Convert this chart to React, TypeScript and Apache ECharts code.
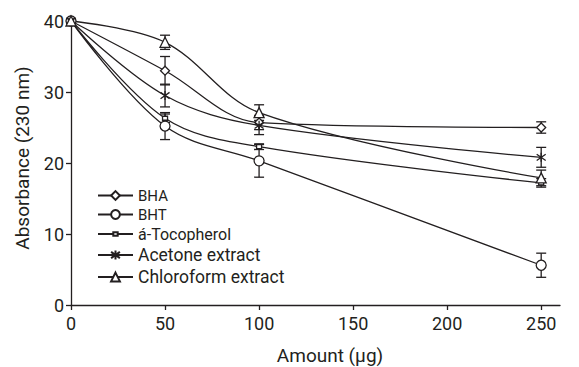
import React, { useEffect, useRef } from "react";
import * as echarts from "echarts";

const amounts = [0, 50, 100, 250];
const xTicks = [0, 50, 100, 150, 200, 250];
const yTicks = [0, 10, 20, 30, 40];

const seriesNames = ["BHA", "BHT", "á-Tocopherol", "Acetone extract", "Chloroform extract"];
const bha = [40, 33.0, 25.7, 25.0];
const bht = [40, 25.2, 20.3, 5.6];
const toco = [40, 26.3, 22.3, 17.2];
const acetone = [40, 29.5, 25.3, 20.8];
const chloro = [40, 37.0, 27.1, 17.9];

const bhaErr = [0, 2.0, 1.0, 0.8];
const bhtErr = [0, 1.9, 2.3, 1.7];
const tocoErr = [0, 0.6, 0.4, 0.6];
const acetoneErr = [0, 1.6, 1.3, 1.4];
const chloroErr = [0, 1.0, 1.1, 1.1];

const INK = "#231f20";
const FONT = "Roboto";

const asteriskPath = "path://M5,0 L5,10 M1.5,1.5 L8.5,8.5 M1.5,8.5 L8.5,1.5";
const smallRectPath = "path://M0,0 M10,10 M2.5,3 L7.5,3 L7.5,7 L2.5,7 Z";

export default function App() {
  const ref = useRef<HTMLDivElement>(null);
  useEffect(() => {
    if (!ref.current) return;
    const chart = echarts.init(ref.current, undefined, { renderer: "svg" });
    const values = [bha, bht, toco, acetone, chloro];
    const errs = [bhaErr, bhtErr, tocoErr, acetoneErr, chloroErr];
    const symbols = ["diamond", "circle", smallRectPath, asteriskPath, "triangle"];
    const sizes = [9, 10, 10, 9, 10];
    const fontSizes = [15, 15, 16, 17.5, 17.5];

    const lineSeries = values.map((v, i) => ({
      name: seriesNames[i],
      type: "line",
      data: amounts.map((a, j) => [a, v[j]]),
      smooth: 0.35,
      symbol: symbols[i],
      symbolSize: sizes[i],
      showAllSymbol: true,
      lineStyle: { color: INK, width: 1.3 },
      itemStyle: { color: "#ffffff", borderColor: INK, borderWidth: 1.3 },
      z: 3,
    }));

    const errSeries = values.map((v, i) => ({
      name: seriesNames[i] + " err",
      type: "custom",
      data: amounts.map((a, j) => [a, v[j], errs[i][j]]).filter((d) => d[2] > 0),
      z: 2,
      renderItem: (params: any, api: any) => {
        const x = api.value(0);
        const y = api.value(1);
        const e = api.value(2);
        const top = api.coord([x, y + e]);
        const bot = api.coord([x, y - e]);
        const w = 5;
        const st = { stroke: INK, lineWidth: 1.3 };
        return {
          type: "group",
          children: [
            { type: "line", shape: { x1: top[0], y1: top[1], x2: bot[0], y2: bot[1] }, style: st },
            { type: "line", shape: { x1: top[0] - w, y1: top[1], x2: top[0] + w, y2: top[1] }, style: st },
            { type: "line", shape: { x1: bot[0] - w, y1: bot[1], x2: bot[0] + w, y2: bot[1] }, style: st },
          ],
        };
      },
    }));

    chart.setOption({
      animation: false,
      backgroundColor: "#ffffff",
      textStyle: { fontFamily: FONT, color: INK },
      grid: { left: 71, right: 19, top: 21, bottom: 62, containLabel: false },
      legend: {
        orient: "vertical",
        left: 97,
        top: 188,
        padding: 0,
        itemWidth: 35,
        itemHeight: 11,
        itemGap: 4,
        selectedMode: false,
        data: seriesNames.map((n, i) => ({
          name: n,
          textStyle: { fontSize: fontSizes[i], lineHeight: 15, color: INK, fontFamily: FONT },
        })),
      },
      xAxis: {
        type: "value",
        min: 0,
        max: 260,
        interval: 50,
        axisLine: { lineStyle: { color: INK, width: 1.3 } },
        axisTick: { show: true, length: 5, lineStyle: { color: INK, width: 1.3 }, customValues: xTicks },
        axisLabel: { fontSize: 18, color: INK, margin: 9, fontFamily: FONT, customValues: xTicks },
        splitLine: { show: false },
      },
      yAxis: {
        type: "value",
        min: 0,
        max: 40,
        interval: 10,
        axisLine: { show: true, lineStyle: { color: INK, width: 1.3 } },
        axisTick: { show: true, length: 5, lineStyle: { color: INK, width: 1.3 }, customValues: yTicks },
        axisLabel: { fontSize: 18, color: INK, margin: 7, fontFamily: FONT, customValues: yTicks },
        splitLine: { show: false },
      },
      graphic: [
        {
          type: "text",
          x: 330,
          y: 355,
          style: { text: "Amount (µg)", fontSize: 19, fill: INK, fontFamily: FONT, textAlign: "center", textVerticalAlign: "middle" },
        },
        {
          type: "text",
          x: 22,
          y: 158,
          rotation: Math.PI / 2,
          style: { text: "Absorbance (230 nm)", fontSize: 19, fill: INK, fontFamily: FONT, textAlign: "center", textVerticalAlign: "middle" },
        },
      ],
      series: [...errSeries, ...lineSeries],
    });
    return () => chart.dispose();
  }, []);
  return <div ref={ref} style={{ width: 579, height: 367, position: "absolute", left: 0, top: 0 }} />;
}
